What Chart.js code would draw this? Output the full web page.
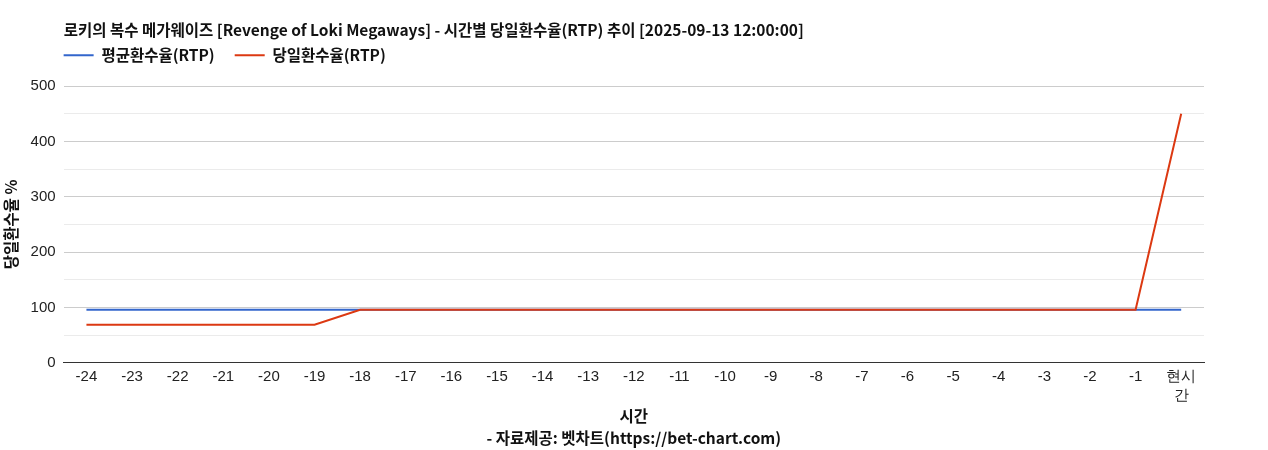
<!DOCTYPE html>
<html>
<head>
<meta charset="utf-8">
<script src="https://cdn.jsdelivr.net/npm/chart.js@4/dist/chart.umd.min.js"></script>
<style>
  html, body { margin: 0; padding: 0; background: #fff; }
  #wrap { width: 1268px; height: 450px; }
</style>
</head>
<body>
<div id="wrap"><canvas id="rtp-chart"></canvas></div>
<script>
// 시간 축 (마지막은 현시간)
const horas = ['-24', '-23', '-22', '-21', '-20', '-19', '-18', '-17', '-16', '-15', '-14', '-13',
    '-12', '-11', '-10', '-9', '-8', '-7', '-6', '-5', '-4', '-3', '-2', '-1', ['현시', '간']];

// 평균환수율(RTP)
const promedioRtp = [96, 96, 96, 96, 96, 96, 96, 96, 96, 96, 96, 96,
    96, 96, 96, 96, 96, 96, 96, 96, 96, 96, 96, 96, 96];

// 당일환수율(RTP)
const diarioRtp = [69, 69, 69, 69, 69, 69, 96, 96, 96, 96, 96, 96,
    96, 96, 96, 96, 96, 96, 96, 96, 96, 96, 96, 96, 450];

const tituloGrafico = '로키의 복수 메가웨이즈 [Revenge of Loki Megaways] - 시간별 당일환수율(RTP) 추이 [2025-09-13 12:00:00]';

const fuenteKr = '"Noto Sans CJK KR", "Noto Sans", sans-serif';
const fuenteTicks = '"Liberation Sans", Arial, sans-serif';

// la leyenda empieza en el borde izquierdo del área del gráfico y pegada al título
const ajusteLeyenda = {
    id: 'ajusteLeyenda',
    beforeDraw: function(chart) {
        const ley = chart.legend;
        ley.left = chart.chartArea.left - ley.options.labels.padding;
        ley.top = chart.titleBlock.bottom - 13;
    }
};

function dibujarGrafico() {
    const ctx = document.getElementById('rtp-chart').getContext('2d');
    new Chart(ctx, {
        type: 'line',
        data: {
            labels: horas,
            datasets: [{
                label: '평균환수율(RTP)',
                data: promedioRtp,
                borderColor: '#3366cc',
                backgroundColor: '#3366cc',
                borderWidth: 2,
                pointRadius: 0,
                tension: 0,
                order: 2
            }, {
                label: '당일환수율(RTP)',
                data: diarioRtp,
                borderColor: '#dc3912',
                backgroundColor: '#dc3912',
                borderWidth: 2,
                pointRadius: 0,
                tension: 0,
                order: 1
            }]
        },
        plugins: [ajusteLeyenda],
        options: {
            responsive: true,
            maintainAspectRatio: false,
            animation: false,
            layout: { padding: { left: 2, right: 64, top: 0, bottom: 1 } },
            plugins: {
                title: {
                    display: true,
                    text: tituloGrafico,
                    align: 'start',
                    fullSize: false,
                    color: '#111',
                    font: { family: fuenteKr, size: 15.5, weight: 'bold' },
                    padding: { top: 21, bottom: 1 }
                },
                legend: {
                    display: true,
                    position: 'top',
                    align: 'start',
                    fullSize: false,
                    labels: {
                        boxWidth: 30,
                        boxHeight: 2,
                        padding: 20,
                        color: '#111',
                        font: { family: fuenteKr, size: 15.5, weight: 'bold' },
                        sort: function(a, b) { return a.datasetIndex - b.datasetIndex; },
                        generateLabels: function(chart) {
                            return Chart.defaults.plugins.legend.labels.generateLabels(chart)
                                .map(function(l) { l.lineWidth = 0; return l; });
                        }
                    }
                },
                tooltip: { enabled: false }
            },
            scales: {
                x: {
                    offset: true,
                    grid: { display: false, drawTicks: false },
                    border: { color: '#333', width: 1 },
                    ticks: {
                        color: '#222',
                        font: { family: fuenteTicks, size: 15, lineHeight: 1.27 },
                        maxRotation: 0,
                        autoSkip: false,
                        padding: 4
                    },
                    title: {
                        display: true,
                        text: ['시간', '- 자료제공: 벳차트(https://bet-chart.com)'],
                        color: '#111',
                        font: { family: fuenteKr, size: 15.5, weight: 'bold', lineHeight: 1.42 },
                        padding: { top: -4, bottom: 0 }
                    }
                },
                y: {
                    min: 0,
                    max: 500,
                    border: { display: false },
                    grid: {
                        drawTicks: false,
                        color: function(c) {
                            if (c.tick.value === 0) return '#333';
                            return c.tick.value % 100 === 0 ? '#cccccc' : '#ebebeb';
                        }
                    },
                    ticks: {
                        stepSize: 50,
                        color: '#222',
                        font: { family: fuenteTicks, size: 15 },
                        padding: 8,
                        callback: function(v) { return v % 100 === 0 ? v : ''; }
                    },
                    title: {
                        display: true,
                        text: '당일환수율 %',
                        color: '#111',
                        font: { family: fuenteKr, size: 15.5, weight: 'bold' },
                        padding: { top: 0, bottom: 2 }
                    }
                }
            }
        }
    });
}

dibujarGrafico();
</script>
</body>
</html>
